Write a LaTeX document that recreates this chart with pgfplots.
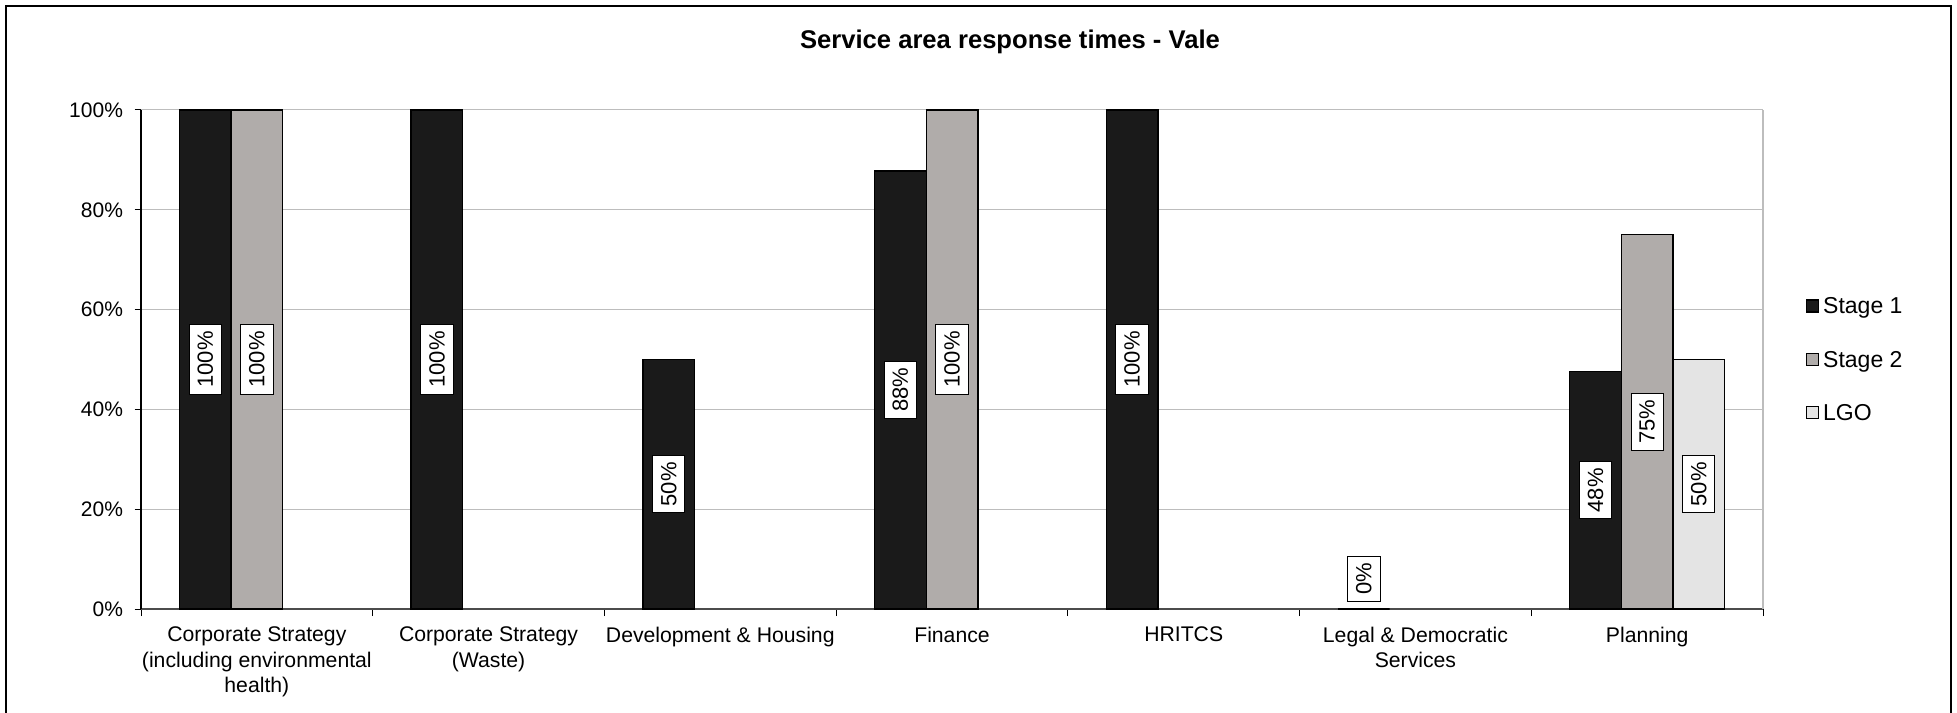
\documentclass[border=0pt]{standalone}
\usepackage{pgfplots}
\pgfplotsset{compat=1.18}
\usepackage{pgfplotstable}
\usepackage{fontspec}
\setmainfont{Liberation Sans}
\definecolor{sone}{HTML}{1A1A1A}
\definecolor{stwo}{HTML}{B0ACAA}
\definecolor{lgoc}{HTML}{E4E4E4}
\definecolor{gridc}{HTML}{BDBDBD}
\pgfplotsset{sqlegend/.style={legend image code/.code={\draw[##1, line width=0.6pt] (0pt,-1.9pt) rectangle (6pt,4.1pt);}}}

\pgfplotstableread{
x y lab
0 100 100
1 100 100
2 50 50
3 87.8 88
4 100 100
5 0 0
6 47.6 48
}\tabstageone
\pgfplotstableread{
x y lab
0 100 100
3 100 100
6 75 75
}\tabstagetwo
\pgfplotstableread{
x y lab
6 50 50
}\tablgo

\begin{document}
\begin{tikzpicture}
\path[use as bounding box] (-70.5pt,-51.5pt) rectangle (908pt,304.5pt);
\draw[line width=0.6pt] (-67.5pt,-60pt) -- (-67.5pt,301.5pt) -- (905pt,301.5pt) -- (905pt,-60pt);
\node[anchor=base, font=\bfseries\fontsize{12.8}{15}\selectfont] at (434.5pt,280.3pt) {Service area response times - Vale};
\begin{axis}[
  width=811pt, height=249.5pt, scale only axis,
  xmin=-0.5, xmax=6.5, ymin=0, ymax=100,
  ybar=0pt, bar width=25.8pt,
  clip=false,
  axis x line*=bottom, axis y line*=left,
  x axis line style={draw=black!70, line width=0.7pt, -},
  y axis line style={draw=black, line width=0.6pt, -},
  tick align=outside, major tick length=3.2pt, minor tick length=3.5pt,
  tick style={black, line width=0.5pt},
  xtick={0,1,2,3,4,5,6},
  xticklabels={Corporate Strategy\\(including environmental\\health),Corporate Strategy\\(Waste),Development \& Housing,Finance,HRITCS,Legal \& Democratic\\Services,Planning},
  major x tick style={draw=none},
  minor xtick={-0.5,0.5,...,6.5},
  minor x tick style={draw=black, line width=0.5pt},
  xticklabel style={align=center, anchor=north, yshift=-2.1pt, font=\fontsize{10.6}{12.8}\selectfont},
  ytick={0,20,...,100},
  yticklabel={\pgfmathprintnumber{\tick}\%},
  yticklabel style={font=\fontsize{10.5}{12}\selectfont, xshift=-2.3pt},
  /pgf/number format/assume math mode=true,
  ymajorgrids, grid style={gridc, line width=0.5pt},
  point meta=explicit,
  nodes near coords={\pgfmathprintnumber{\pgfplotspointmeta}\%},
  visualization depends on={y \as \rawy},
  every node near coord/.append style={shift={(axis direction cs:0,{ifthenelse(\rawy==0,6,-\rawy/2)})}, rotate=90, anchor=center, fill=white, draw=black, line width=0.5pt, inner xsep=3.2pt, inner ysep=4.2pt, font=\fontsize{11}{12}\selectfont, text=black},
  legend style={at={(1.026,0.496)}, anchor=west, draw=none, fill=none, inner sep=0pt, row sep=14.3pt, column sep=1.2pt, font=\fontsize{11.5}{13}\selectfont, nodes={inner sep=1pt, text height=8pt, text depth=2.3pt}},
  legend cell align=left,
]
\addplot[fill=sone, draw=black, line width=0.7pt, sqlegend] table[x=x, y=y, meta=lab] {\tabstageone};
\addplot[fill=stwo, draw=black, line width=0.7pt, sqlegend] table[x=x, y=y, meta=lab] {\tabstagetwo};
\addplot[fill=lgoc, draw=black, line width=0.7pt, sqlegend] table[x=x, y=y, meta=lab] {\tablgo};
\legend{Stage 1, Stage 2, LGO}
\draw[gridc, line width=0.6pt] (rel axis cs:1,0) -- (rel axis cs:1,1);
\end{axis}
\end{tikzpicture}
\end{document}
